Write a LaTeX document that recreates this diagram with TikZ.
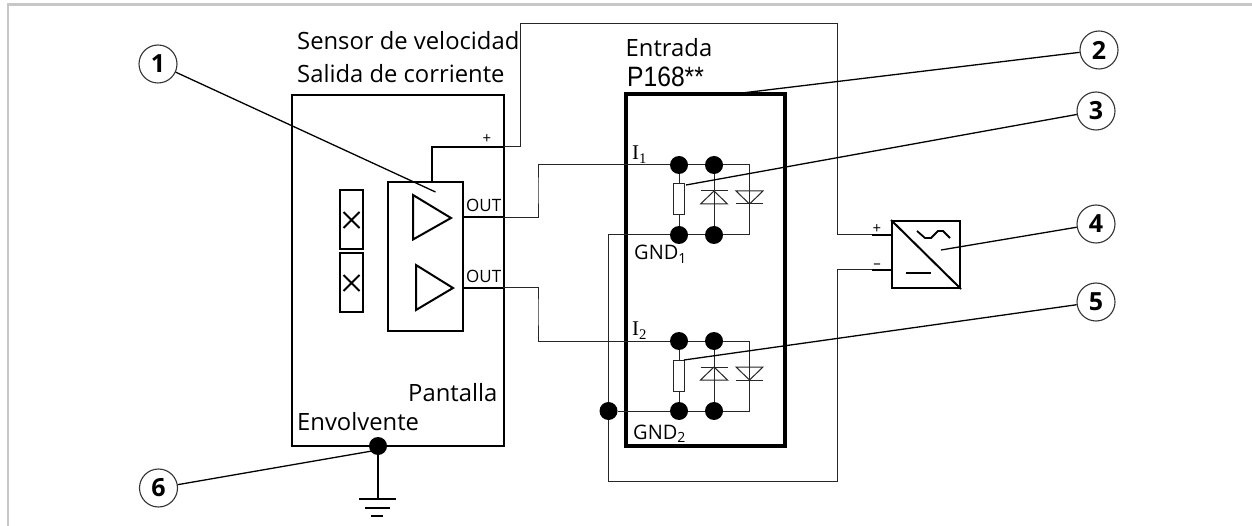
\documentclass[tikz,border=0pt]{standalone}
\usepackage{fontspec}
\setmainfont{Open Sans}
\newfontfamily\narrowf{Liberation Sans}
\newfontfamily\seriff{Liberation Serif}
\tikzset{
  wire/.style={line width=1pt,draw=black!85},
  heavy/.style={line width=2pt,draw=black},
  leader/.style={line width=1.3pt,draw=black},
  boxn/.style={draw=black,line width=2pt,fill=none,inner sep=0pt,rectangle},
  dot/.style={circle,fill=black,draw=none,inner sep=0pt,minimum size=18pt},
  callout/.style={circle,draw=black!80,line width=1.1pt,fill=white,inner sep=0pt,minimum size=38pt,font=\fontsize{25}{25}\selectfont\bfseries},
  lab/.style={anchor=base west,inner sep=0pt,font=\fontsize{23.8}{24}\selectfont},
  small/.style={anchor=base west,inner sep=0pt,font=\fontsize{17}{17}\selectfont},
  tiny/.style={anchor=base,inner sep=0pt,font=\fontsize{15}{15}\selectfont},
  gndlab/.style={anchor=base west,inner sep=0pt,font=\fontsize{20}{20}\selectfont},
  ilab/.style={anchor=base west,inner sep=0pt,font=\seriff\fontsize{21}{21}\selectfont},
  channel/.pic={
    \node[dot] (a) at (0,0) {};
    \node[dot] (b) at (35,0) {};
    \node[dot] (c) at (0,70) {};
    \node[dot] (d) at (35,70) {};
    \coordinate (e) at (70.5,0);
    \coordinate (f) at (70.5,70);
    \draw[wire] (a) -- (b) -- (e) -- (f) -- (d) -- (c);
    \draw[wire] (a) -- (c);
    \draw[wire] (b) -- (d);
    \node[draw=black!85,line width=1pt,fill=white,inner sep=0pt,minimum width=11pt,minimum height=31pt] (r) at (0,34.5) {};
    \draw[wire,fill=white] (35,26) -- (21.5,39) -- (48.5,39) -- cycle;
    \draw[wire] (21.5,26) -- (48.5,26);
    \draw[wire] (35,26) -- (35,39);
    \draw[wire,fill=white] (57,26) -- (84,26) -- (70.5,39) -- cycle;
    \draw[wire] (57,39) -- (84,39);
    \draw[wire] (70.5,26) -- (70.5,39);
  }
}
\begin{document}
\begin{tikzpicture}[x=1pt,y=-1pt]
\useasboundingbox (0,0) rectangle (1252,526);
\coordinate (ftl) at (8,4.5);
\coordinate (ftr) at (1252,4.5);
\coordinate (fbl) at (8,526);
\draw[line width=2.5pt,draw=black!22] (ftr) -- (ftl) -- (fbl);

% blocks
\node[boxn,minimum width=211.5pt,minimum height=351pt] (sensor) at (397.75,270.5) {};
\node[boxn,minimum width=75pt,minimum height=149pt] (amp) at (425.5,256.5) {};
\node[draw=black,line width=3.5pt,inner sep=0pt,minimum width=159pt,minimum height=352pt] (input) at (705.5,270) {};
\node[boxn,minimum width=68pt,minimum height=67pt] (conv) at (926,254.5) {};
\node[boxn,minimum width=23pt,minimum height=59pt] (xa) at (351.5,219.5) {};
\node[boxn,minimum width=23pt,minimum height=59pt] (xb) at (351.5,282.5) {};
\draw[heavy] (343.5,212) -- (359.5,228) (359.5,212) -- (343.5,228);
\draw[heavy] (343.5,275) -- (359.5,291) (359.5,275) -- (343.5,291);
\draw[heavy,line join=miter] (413,195) -- (451,218) -- (413,239.5) -- cycle;
\draw[heavy,line join=miter] (416,265) -- (453,288) -- (416,310) -- cycle;

% channels
\pic (cha) at (679,165) {channel};
\pic (chb) at (679,341) {channel};

% supply wiring
\coordinate (p1) at (432,182);
\coordinate (p2) at (503.5,147);
\coordinate (p3) at (520.6,147);
\coordinate (p4) at (520.6,24);
\coordinate (p5) at (837,24);
\coordinate (p6) at (872,235);
\coordinate (p7) at (892,235);
\coordinate (m1) at (872,270);
\coordinate (m2) at (892,270);
\coordinate (m3) at (837,481);
\coordinate (m4) at (608.5,481);
\node[dot] (sh) at (608.5,411) {};
\draw[heavy] (p1) |- (p2);
\draw[wire] (p2) -- (p3) -- (p4) -- (p5) |- (p6);
\draw[heavy] (p6) -- (p7);
\draw[heavy] (m1) -- (m2);
\draw[wire] (m1) -| (m3) -- (m4) -- (sh);
\draw[wire] (sh) -- (chbc);
\draw[wire] (sh) |- (chac);

% signal wiring
\coordinate (o1) at (463,217.5);
\coordinate (o1b) at (503,217.5);
\coordinate (o2) at (463,288);
\coordinate (o2b) at (503,288);
\coordinate (v1) at (538,190);
\coordinate (v2) at (538,310);
\draw[heavy] (o1) -- (o1b);
\draw[heavy] (o2) -- (o2b);
\draw[wire] (o1b) -| (v1) |- (chaa);
\draw[wire] (o2b) -| (v2) |- (chba);

% converter
\draw[heavy] (conv.north west) -- (conv.south east);
\draw[line width=1.8pt] (917,231) -- (925,238) -- (931,238) -- (938,231) -- (943,231) -- (950,238);
\draw[heavy] (906,273) -- (931,273);

% earth
\node[dot] (earth) at (378,446) {};
\coordinate (g0) at (378,499);
\draw[heavy] (earth) -- (g0);
\draw[heavy] (359,499) -- (396,499);
\draw[heavy] (365,507.5) -- (390,507.5);
\draw[heavy] (371,516) -- (383,516);

% callouts
\node[callout] (c1) at (158,64) {1};
\node[callout] (c2) at (1099,50) {2};
\node[callout] (c3) at (1096,111) {3};
\node[callout] (c4) at (1096,224) {4};
\node[callout] (c5) at (1096,302) {5};
\node[callout] (c6) at (158.5,488) {6};
\coordinate (t1) at (435.5,192);
\coordinate (t2) at (742,93);
\coordinate (t4) at (941,250);
\coordinate (t5) at (684,360);
\coordinate (t3) at (686,185);
\coordinate (t6) at (372,451);
\draw[leader] (c1) -- (t1);
\draw[leader] (c2) -- (t2);
\draw[leader] (c3) -- (t3);
\draw[leader] (c4) -- (t4);
\draw[leader] (c5) -- (t5);
\draw[leader] (c6) -- (t6);

% texts
\node[lab] (tsens) at (297,50) {Sensor de velocidad};
\node[lab] (tsal) at (297,83) {Salida de corriente};
\node[lab] (tent) at (625.5,57) {Entrada};
\node[anchor=base west,inner sep=0pt,font=\narrowf\fontsize{28}{28}\selectfont,xscale=0.88] (tp) at (627,87) {P168**};
\node[lab] (tpan) at (408,401) {Pantalla};
\node[lab] (tenv) at (297,430) {Envolvente};
\node[small] (to1) at (466,212) {OUT};
\node[small] (to2) at (466,283) {OUT};
\node[tiny] (tpl) at (487,144) {+};
\node[tiny] (tcp) at (877,234) {+};
\node[tiny] (tcm) at (877,269) {–};
\node[ilab] (ti1) at (632,160) {I\textsubscript{1}};
\node[ilab] (ti2) at (632,336) {I\textsubscript{2}};
\node[gndlab] (tg1) at (634,260) {GND\textsubscript{1}};
\node[gndlab] (tg2) at (633,439) {GND\textsubscript{2}};
\end{tikzpicture}
\end{document}
